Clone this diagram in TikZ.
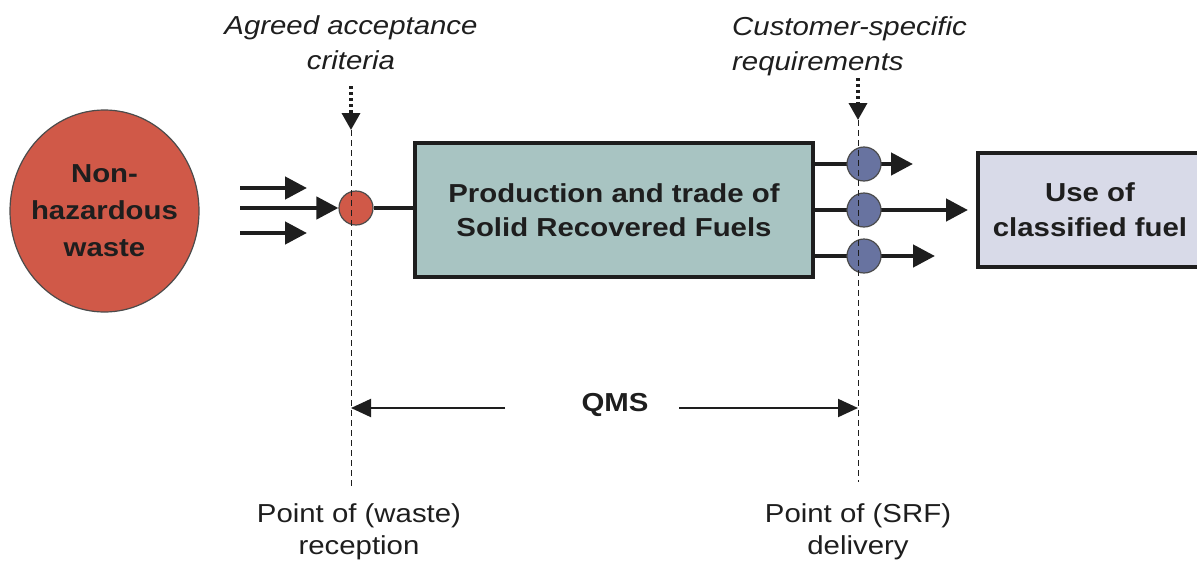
\documentclass[tikz,border=0pt]{standalone}
\usepackage{fontspec}
\setmainfont[FakeStretch=1.13]{Liberation Sans}
\usetikzlibrary{arrows.meta,shapes.geometric,backgrounds}
\definecolor{wastered}{RGB}{208,89,72}
\definecolor{prodfill}{RGB}{168,196,194}
\definecolor{usefill}{RGB}{216,218,232}
\definecolor{srfblue}{RGB}{104,115,160}
\definecolor{ink}{RGB}{30,30,30}
\begin{document}
\begin{tikzpicture}[x=1pt,y=-1pt,
  txt/.style={font=\fontsize{26}{34}\selectfont, text=ink, align=center, inner sep=0pt},
  boldtxt/.style={txt, font=\fontsize{26}{34}\selectfont\bfseries},
  note/.style={txt, font=\fontsize{26}{35}\selectfont\itshape},
  box/.style={draw=ink, line width=4pt, rectangle, inner sep=0pt},
  dotnode/.style={circle, draw=ink!80, line width=1.2pt, minimum size=34pt, inner sep=0pt},
  flow/.style={draw=ink, line width=4.5pt},
  flowtip/.style={flow, -{Triangle[length=22pt,width=22pt]}},
  guide/.style={draw=ink, line width=1pt, dash pattern=on 6pt off 4pt},
  hint/.style={draw=ink, line width=3.5pt, dash pattern=on 3pt off 3pt, -{Triangle[length=17pt,width=18pt]}},
  span/.style={draw=ink, line width=2pt, -{Triangle[length=20pt,width=18pt]}}
]
\useasboundingbox (0,0) rectangle (1197,565);

% main nodes
\node[ellipse, fill=wastered, draw=ink!80, line width=1.2pt, minimum width=189pt, minimum height=202pt, inner sep=0pt,
      label={[boldtxt, font=\fontsize{26}{37}\selectfont\bfseries]center:Non-\\hazardous\\waste}] (waste) at (104.5,211) {};
\node[box, fill=prodfill, minimum width=398pt, minimum height=134pt, boldtxt] (prod) at (614,210)
      {Production and trade of\\Solid Recovered Fuels};
\node[box, fill=usefill, minimum width=224pt, minimum height=114pt, boldtxt, font=\fontsize{26}{35}\selectfont\bfseries] (use) at (1090,210)
      {Use of\\classified fuel};

\node[dotnode, fill=wastered] (rc) at (356,208) {};
\node[dotnode, fill=srfblue] (b1) at (864,164) {};
\node[dotnode, fill=srfblue] (b2) at (864,210) {};
\node[dotnode, fill=srfblue] (b3) at (864,256) {};

% coordinates for free ends
\coordinate (in1) at (240,188);
\coordinate (in1e) at (307,188);
\coordinate (in2) at (240,208);
\coordinate (in3) at (240,233);
\coordinate (in3e) at (307,233);
\coordinate (o1) at (913,164);
\coordinate (o2) at (968,210);
\coordinate (o3) at (935,256);

\begin{pgfonlayer}{background}
\draw[flowtip] (in1) -- (in1e);
\draw[flowtip] (in2) -- (rc.west);
\draw[flowtip] (in3) -- (in3e);
\draw[flow] (rc) -- (rc -| prod.west);
\draw[flowtip] (prod.east |- b1) -- (o1);
\draw[flowtip] (prod.east |- b2) -- (o2);
\draw[flowtip] (prod.east |- b3) -- (o3);
\end{pgfonlayer}

% guide lines
\coordinate (lh) at (351,86);
\coordinate (lt) at (351,130);
\coordinate (lb) at (351,487);
\coordinate (rh) at (858,78);
\coordinate (rt) at (858,120);
\coordinate (rb) at (858,482);
\draw[hint] (lh) -- (lt);
\draw[guide] (lt) -- (lb);
\draw[hint] (rh) -- (rt);
\draw[guide] (rt) -- (rb);

% QMS
\node[boldtxt] (qms) at (615,405) {QMS};
\coordinate (ql) at (505,408);
\coordinate (qr) at (679,408);
\draw[span] (ql) -- (ql -| lb);
\draw[span] (qr) -- (qr -| rb);

% labels
\node[note] (agreed) at (351,43) {Agreed acceptance\\criteria};
\node[note, align=left, anchor=west] (cust) at (732,46) {Customer-specific\\requirements};
\node[txt, font=\fontsize{26}{32}\selectfont] (recp) at (359,532) {Point of (waste)\\reception};
\node[txt, font=\fontsize{26}{32}\selectfont] (deliv) at (858,532) {Point of (SRF)\\delivery};
\end{tikzpicture}
\end{document}
